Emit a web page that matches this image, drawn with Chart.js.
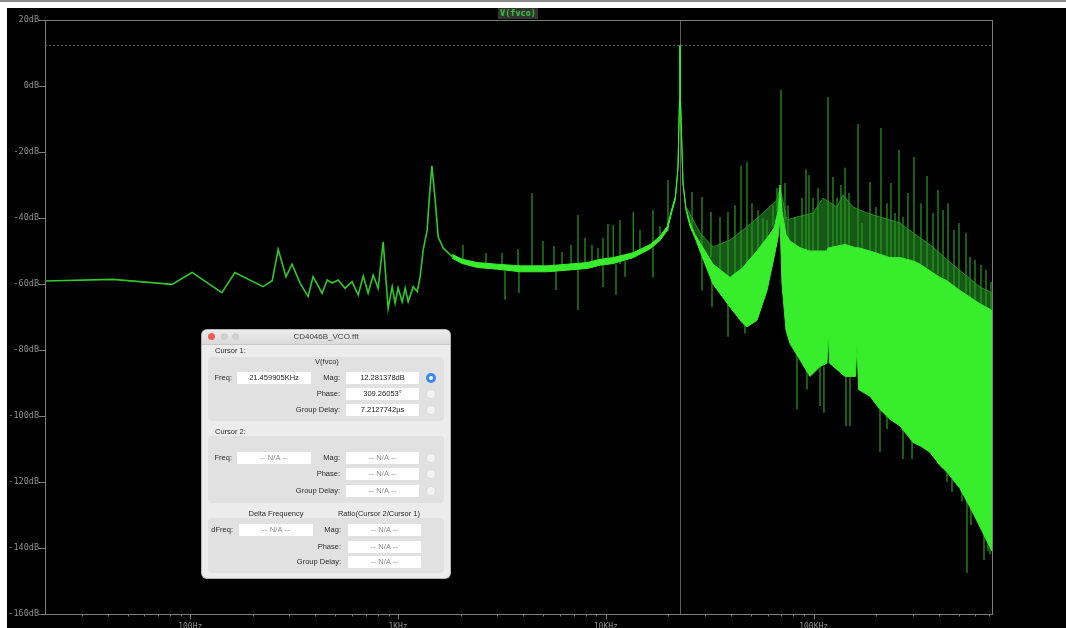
<!DOCTYPE html>
<html>
<head>
<meta charset="utf-8">
<title>V(fvco) FFT</title>
<script src="https://cdn.jsdelivr.net/npm/chart.js@4.4.1/dist/chart.umd.min.js"></script>
<style>
  html, body { margin: 0; padding: 0; width: 1066px; height: 628px; overflow: hidden; background: #fff; }
  #topline { position: absolute; left: 0; top: 0; width: 1066px; height: 2px; background: #8c8c8c; }
  #screen { position: absolute; left: 7px; top: 8px; width: 1059px; height: 620px; background: #000; }
  #chart { position: absolute; left: 0; top: 0; }
  #trace { position: absolute; left: 498px; top: 8px; width: 40px; height: 11px; background: #333;
           color: #35c535; font: bold 8.5px "DejaVu Sans Mono", monospace; line-height: 11px; text-align: center; }

  .dlg { position: absolute; left: 202px; top: 330px; width: 248px; height: 248px; background: #ececec;
         border-radius: 5px; box-shadow: 0 0 0 1px #b5b5b5, 0 4px 14px rgba(0,0,0,.6); overflow: hidden;
         font-family: "Liberation Sans", Arial, sans-serif; font-size: 7.5px; color: #2b2b2b; }
  .dlg div { position: absolute; line-height: 10px; white-space: nowrap; }
  .dlg .tbar { left: 0; top: 0; width: 248px; height: 14px; background: linear-gradient(#ececec, #dadada); border-bottom: 1px solid #c9c9c9; }
  .dlg .ttl { left: 0; top: 2px; width: 248px; text-align: center; font-size: 8px; color: #444; }
  .dlg .dot { top: 3px; width: 7px; height: 7px; border-radius: 50%; background: #cfcfcf; }
  .dlg .panel { left: 6px; width: 236px; background: #e1e1e1; border-radius: 4px; }
  .dlg .lbl { width: 80px; text-align: right; }
  .dlg .fld { height: 12px; line-height: 12px; background: #fff; text-align: center; color: #222; }
  .dlg .na { color: #8a8a8a; letter-spacing: 0.2px; }
  .dlg .radio { left: 224px; width: 10px; height: 10px; border-radius: 50%; background: #f3f3f3; box-shadow: inset 0 0 0 1px #d8d8d8; }
  .dlg .radio.on { background: #3a86f4; box-shadow: none; }
  .dlg .radio.on::after { content: ""; position: absolute; left: 3px; top: 3px; width: 4px; height: 4px; border-radius: 50%; background: #fff; }
</style>
</head>
<body>
<div id="topline"></div>
<div id="screen"></div>
<canvas id="chart" width="1066" height="628"></canvas>
<div id="trace">V(fvco)</div>

<div class="dlg">
  <div class="tbar"></div>
  <div class="dot" style="left:6px; background:#f25a52;"></div>
  <div class="dot" style="left:19px;"></div>
  <div class="dot" style="left:30px;"></div>
  <div class="ttl">CD4046B_VCO.fft</div>

  <div style="left:13px; top:16px;">Cursor 1:</div>
  <div class="panel" style="top:27px; height:64px;"></div>
  <div style="left:0; width:250px; top:27px; text-align:center;">V(fvco)</div>
  <div class="lbl" style="left:-50px; top:43px;">Freq:</div>
  <div class="fld" style="left:35px; top:42px; width:74px;">21.459905KHz</div>
  <div class="lbl" style="left:58px; top:43px;">Mag:</div>
  <div class="fld" style="left:144px; top:42px; width:73px;">12.281378dB</div>
  <div class="radio on" style="top:43px;"></div>
  <div class="lbl" style="left:58px; top:59px;">Phase:</div>
  <div class="fld" style="left:144px; top:58px; width:73px;">309.26053°</div>
  <div class="radio" style="top:59px;"></div>
  <div class="lbl" style="left:58px; top:75px;">Group Delay:</div>
  <div class="fld" style="left:144px; top:74px; width:73px;">7.2127742µs</div>
  <div class="radio" style="top:75px;"></div>

  <div style="left:13px; top:97px;">Cursor 2:</div>
  <div class="panel" style="top:106px; height:67px;"></div>
  <div class="lbl" style="left:-50px; top:123px;">Freq:</div>
  <div class="fld na" style="left:35px; top:122px; width:74px;">-- N/A --</div>
  <div class="lbl" style="left:58px; top:123px;">Mag:</div>
  <div class="fld na" style="left:144px; top:122px; width:73px;">-- N/A --</div>
  <div class="radio" style="top:123px;"></div>
  <div class="lbl" style="left:58px; top:139px;">Phase:</div>
  <div class="fld na" style="left:144px; top:138px; width:73px;">-- N/A --</div>
  <div class="radio" style="top:139px;"></div>
  <div class="lbl" style="left:58px; top:156px;">Group Delay:</div>
  <div class="fld na" style="left:144px; top:155px; width:73px;">-- N/A --</div>
  <div class="radio" style="top:156px;"></div>

  <div style="left:24px; width:100px; top:179px; text-align:center;">Delta Frequency</div>
  <div style="left:117px; width:120px; top:179px; text-align:center;">Ratio(Cursor 2/Cursor 1)</div>
  <div class="panel" style="top:188px; height:55px;"></div>
  <div class="lbl" style="left:-49px; top:195px;">dFreq:</div>
  <div class="fld na" style="left:37px; top:194px; width:74px;">-- N/A --</div>
  <div class="lbl" style="left:59px; top:195px;">Mag:</div>
  <div class="fld na" style="left:146px; top:194px; width:73px;">-- N/A --</div>
  <div class="lbl" style="left:59px; top:212px;">Phase:</div>
  <div class="fld na" style="left:146px; top:211px; width:73px;">-- N/A --</div>
  <div class="lbl" style="left:59px; top:227px;">Group Delay:</div>
  <div class="fld na" style="left:146px; top:226px; width:73px;">-- N/A --</div>
</div>

<script>
// axis setup (Hz / dB)
const freqMin = 20;
const freqMax = 721700;
const magMin = -160;
const magMax = 20;
const xMajorTicks = [100, 1000, 10000, 100000];
const xMajorLabels = ["100Hz", "1KHz", "10KHz", "100KHz"];

// cursor 1
const cursorFreq = 22740;
const cursorMag = 12.28;

// low-frequency part of the trace, drawn as a plain line
const lowFreq = [20, 42.5, 81.8, 102, 142, 164, 224, 248, 265, 289, 309, 338, 369, 390, 431, 456, 482, 515, 556, 601,
                 643, 680, 718, 759, 802, 848, 896, 937, 968, 1001, 1047, 1082, 1119, 1183, 1237, 1278, 1321, 1381, 1412, 1455,
                 1509, 1560, 1649, 1822];
const lowMag = [-59.1, -58.6, -60.1, -56.5, -62.6, -56.5, -60.8, -59.0, -49.5, -57.8, -54.0, -59.8, -63.8, -57.8, -62.8, -58.8, -59.7, -58.8, -61.3, -59.3,
                -63.3, -57.6, -62.8, -57.3, -61.3, -47.2, -67.4, -60.8, -65.8, -61.2, -65.4, -61.3, -65.4, -60.8, -62.3, -57.8, -49.7, -43.6, -34.5, -24.2,
                -34.5, -45.7, -49.1, -51.7];

// dense bright part: upper and lower envelope
const brightFreq = [1822, 2036, 2404, 3001, 3873, 5224, 6521, 8139, 9399, 10856,
                    13552, 16364, 18220, 19758, 20810, 21593, 22250, 22620, 22740, 22860,
                    23510, 24300, 25410, 26850, 28390, 32780, 39580, 45710, 47780, 53390,
                    59650, 64460, 67380, 68870, 70420, 73620, 76930, 85980, 96040, 107300,
                    116000, 117600, 119200, 141600, 159000, 161700, 164500, 186700, 208600, 233100,
                    260400, 300800, 325000, 363100, 405700, 438300, 506300, 565600, 631900, 721700];
const brightHi = [-51.0, -52.5, -53.5, -54.0, -54.5, -54.5, -54.0, -53.5, -52.5, -52.0,
                  -50.5, -48.0, -45.5, -42.5, -37.0, -33.5, -24.5, -4.0, 12.28, -4.0,
                  -29.4, -37.0, -41.5, -45.0, -47.5, -54.0, -58.0, -55.0, -53.5, -50.0,
                  -46.0, -43.0, -38.0, -30.0, -38.0, -45.0, -47.0, -49.0, -50.0, -50.0,
                  -50.0, -49.0, -49.0, -48.0, -49.0, -49.0, -49.0, -50.0, -51.0, -52.0,
                  -52.0, -53.0, -54.0, -56.0, -58.0, -59.0, -62.0, -64.0, -66.0, -68.0];
const brightLo = [-52.2, -53.8, -55.0, -55.5, -56.3, -56.3, -55.8, -55.3, -54.3, -53.8,
                  -52.0, -49.3, -46.8, -43.8, -38.0, -34.5, -25.0, -4.0, 12.28, -4.0,
                  -29.4, -37.5, -42.5, -46.0, -50.0, -60.0, -67.0, -72.0, -73.0, -71.0,
                  -62.0, -52.0, -46.0, -40.0, -60.0, -74.0, -78.0, -83.0, -88.0, -85.0,
                  -84.0, -74.0, -84.0, -88.0, -88.0, -78.0, -92.0, -94.0, -98.0, -101.0,
                  -103.0, -108.0, -109.0, -111.0, -115.0, -117.0, -122.0, -127.6, -133.6, -141.0];

// darker haze of harmonics above the bright part
const darkFreq = [24570, 28390, 32780, 39580, 47780, 57050, 66620, 68870, 74410, 83150,
                  99290, 110900, 129500, 138400, 154700, 180600, 208600, 260400, 300800, 375300,
                  438300, 523300, 631900, 721700];
const darkHi = [-37.0, -44.5, -48.8, -46.7, -42.7, -38.5, -34.5, -30.6, -40.6, -39.7,
                -38.5, -34.0, -36.7, -33.0, -36.7, -38.5, -39.7, -41.5, -44.5, -48.8,
                -52.7, -56.7, -60.9, -62.7];
const darkLo = [-40, -48, -55, -58, -54, -48, -40, -34, -48, -50,
                -52, -52, -52, -52, -52, -52, -54, -55, -56, -60,
                -62, -65, -68, -70];

// single spectral lines (from, to)
const spikeFreq = [2054, 2651, 3164, 3271, 3778, 3819, 4413, 4983, 5629, 5755,
                   6152, 6797, 7345, 7937, 8579, 9169, 9690, 10240, 10856, 11190,
                   11700, 12370, 13552, 14600, 16860, 18220, 19910,
                   25980, 29020, 32060, 32420, 35430, 38710, 41830, 44720, 46720, 47780,
                   50510, 53970, 57050, 59650, 63750, 66620, 69650, 72810, 75270, 81340,
                   83150, 87900, 91880, 94990, 99290, 104950, 107300, 112100, 117300, 123900,
                   129500, 135400, 141600, 143100, 148000, 149600, 163500, 170900, 186700, 199500,
                   208600, 210900, 225400, 235600, 246400, 257500, 269200, 284400, 297500, 304000,
                   328600, 351300, 375300, 383700, 396700, 419400, 443300, 463400, 473700, 500600,
                   541000, 547000, 565600, 571800, 597700, 638800, 660600, 675300, 706000, 713700,
                   92900, 225400, 438300, 517500, 690200];
const spikeLow = [-54, -55, -55, -64.8, -56, -62.7, -56, -56, -56, -61.8,
                  -56, -55, -67.9, -55, -55, -54, -60.9, -54, -54, -63.3,
                  -54, -57.9, -52, -51, -58, -47, -44,
                  -44, -62, -52, -67, -58, -76, -60, -56, -75, -54,
                  -52, -50, -48, -46, -43, -38, -40, -44, -47, -49,
                  -98, -49, -50, -50, -50, -50, -97, -99, -70, -49,
                  -48, -48, -48, -103, -49, -103, -72, -49, -50, -51,
                  -111, -51, -52, -52, -52, -52, -113, -53, -113, -53,
                  -54, -55, -56, -112, -57, -58, -59, -123, -61, -62,
                  -63, -147.6, -64, -133, -65, -66, -143.6, -67, -142, -68,
                  -92, -104, -120, -126, -141];
const spikeHigh = [-48.2, -50.6, -50.6, -56, -49.4, -56, -32.4, -47, -48.5, -56,
                   -50.3, -48.2, -39.1, -46, -48.2, -49.1, -46, -41.8, -42.1, -54,
                   -40.6, -53, -38.2, -43.6, -37.6, -42.5, -28.5,
                   -32.1, -33.6, -38.2, -55, -39.7, -38.2, -36.1, -24.2, -60, -23,
                   -35.5, -37.6, -40, -40.6, -36.1, -30.9, -1.1, -29.4, -36.1, -39.7,
                   -80, -33.9, -25.2, -27, -33.9, -30.9, -85, -85, -3.3, -27.6,
                   -33.9, -30, -24.8, -88, -32.4, -88, -11.5, -41.5, -29.1, -36.7,
                   -98, -12.7, -35.5, -29.4, -38.5, -19.4, -39.7, -32.4, -107, -21.5,
                   -35.5, -27.3, -38.5, -111, -31.5, -37.6, -35.5, -119, -43.6, -41.5,
                   -44.5, -125, -51.8, -127, -52.7, -54.2, -135, -55.7, -139, -59.4,
                   -86, -100, -117, -122, -137];

const axisColor = "#7d7d7d";
const labelColor = "#8e8e8e";

const toPoints = (xs, ys) => xs.map((f, i) => ({ x: f, y: ys[i] }));

const spikePoints = [];
spikeFreq.forEach((f, i) => {
    spikePoints.push({ x: f, y: spikeLow[i] }, { x: f, y: spikeHigh[i] }, { x: f, y: null });
});

// minor ticks 2..9 of each decade
const xMinorTicks = [];
for (let d = 10; d <= 100000; d *= 10) {
    for (let m = 2; m <= 9; m++) {
        const v = d * m;
        if (v > freqMin && v < freqMax) xMinorTicks.push(v);
    }
}

const line = (ctx, x1, y1, x2, y2) => { ctx.beginPath(); ctx.moveTo(x1, y1); ctx.lineTo(x2, y2); ctx.stroke(); };

// cursor lines go under the trace, frame and ticks on top
const framePlugin = {
    id: "frame",
    beforeDatasetsDraw(chart) {
        const { ctx, chartArea: a, scales: { x, y } } = chart;
        ctx.save();
        ctx.lineWidth = 1;
        ctx.strokeStyle = "#5c5c5c";
        ctx.setLineDash([2, 2]);
        const cy = Math.round(y.getPixelForValue(cursorMag)) + 0.5;
        line(ctx, a.left, cy, a.right, cy);
        ctx.setLineDash([]);
        const cx = Math.round(x.getPixelForValue(cursorFreq)) + 0.5;
        line(ctx, cx, a.top, cx, a.bottom);
        ctx.restore();
    },
    afterDatasetsDraw(chart) {
        const { ctx, chartArea: a, scales: { x, y } } = chart;
        ctx.save();
        ctx.lineWidth = 1;
        ctx.strokeStyle = axisColor;
        ctx.strokeRect(Math.round(a.left) + 0.5, Math.round(a.top) + 0.5, Math.round(a.right - a.left), Math.round(a.bottom - a.top));
        const b = Math.round(a.bottom) + 0.5;
        xMinorTicks.forEach(v => {
            const px = Math.round(x.getPixelForValue(v)) + 0.5;
            line(ctx, px, b, px, b + 2);
        });
        xMajorTicks.forEach(v => {
            const px = Math.round(x.getPixelForValue(v)) + 0.5;
            line(ctx, px, b, px, b + 5);
        });
        for (let v = magMin; v <= magMax; v += 20) {
            const py = Math.round(y.getPixelForValue(v)) + 0.5;
            line(ctx, a.left - 6, py, a.left, py);
        }
        ctx.restore();
    }
};

const ctx = document.getElementById("chart").getContext("2d");
new Chart(ctx, {
    type: "line",
    data: {
        datasets: [
            { data: toPoints(lowFreq, lowMag), borderColor: "#30c82c", borderWidth: 1.6, fill: false, order: 0 },
            { data: toPoints(brightFreq, brightHi), borderColor: "#38ee2c", backgroundColor: "#38ee2c", borderWidth: 1, fill: "+1", order: 1 },
            { data: toPoints(brightFreq, brightLo), borderColor: "#38ee2c", borderWidth: 1, fill: false, order: 2 },
            { data: spikePoints, borderColor: "#2a9a22", borderWidth: 1.2, fill: false, spanGaps: false, order: 3 },
            { data: toPoints(darkFreq, darkHi), borderColor: "#228a22", backgroundColor: "rgba(40,160,40,0.55)", borderWidth: 1, fill: "+1", order: 4 },
            { data: toPoints(darkFreq, darkLo), borderWidth: 0, fill: false, order: 5 }
        ]
    },
    options: {
        responsive: false,
        animation: false,
        layout: { padding: { left: 0, top: 20, right: 74, bottom: 0 } },
        elements: { point: { radius: 0 }, line: { tension: 0 } },
        plugins: { legend: { display: false }, tooltip: { enabled: false } },
        scales: {
            x: {
                type: "logarithmic",
                min: freqMin,
                max: freqMax,
                grid: { display: false, drawTicks: false },
                border: { display: false },
                afterBuildTicks: s => { s.ticks = xMajorTicks.map(v => ({ value: v })); },
                afterFit: s => { s.height = 14; },
                ticks: {
                    autoSkip: false,
                    maxRotation: 0,
                    padding: 8,
                    color: labelColor,
                    font: { family: "DejaVu Sans Mono", size: 8 },
                    callback: v => xMajorLabels[xMajorTicks.indexOf(v)] || ""
                }
            },
            y: {
                min: magMin,
                max: magMax,
                grid: { display: false, drawTicks: false },
                border: { display: false },
                afterFit: s => { s.width = 45; },
                ticks: {
                    stepSize: 20,
                    padding: 6,
                    color: labelColor,
                    font: { family: "DejaVu Sans Mono", size: 8.5 },
                    callback: v => v + "dB"
                }
            }
        }
    },
    plugins: [framePlugin]
});
</script>
</body>
</html>
